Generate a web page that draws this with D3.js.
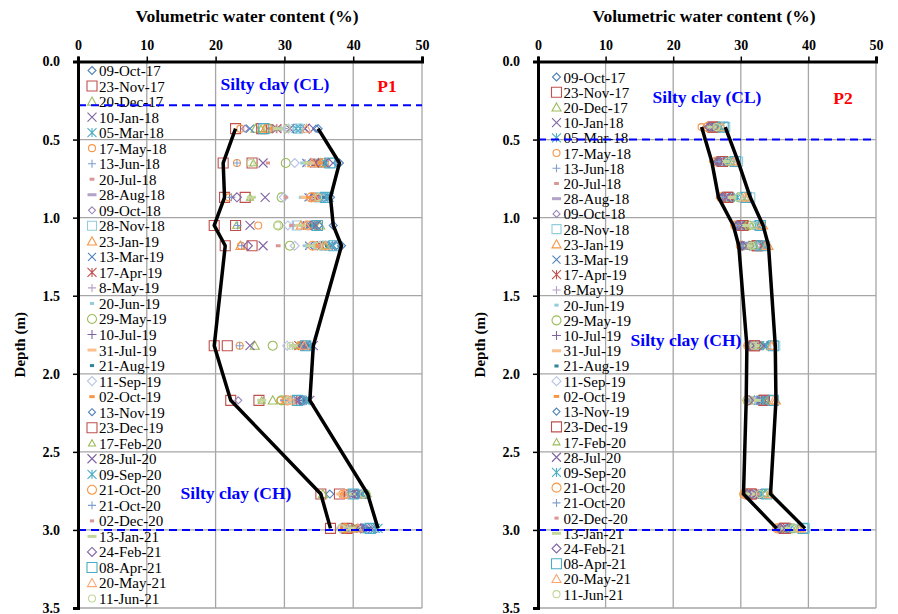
<!DOCTYPE html>
<html>
<head>
<meta charset="utf-8">
<script src="https://cdn.jsdelivr.net/npm/d3@7"></script>
<style>
  body { margin: 0; background: #fff; }
  svg { display: block; font-family: "Liberation Serif", "Times New Roman", serif; }
  .tick line { stroke: #000; stroke-width: 1.5; }
  .tick text { font-weight: bold; font-size: 14px; fill: #000; }
</style>
</head>
<body>
<svg id="chart" width="898" height="614"></svg>
<script>
// survey dates (legend order)
const dates = [
  "09-Oct-17", "23-Nov-17", "20-Dec-17", "10-Jan-18", "05-Mar-18", "17-May-18", "13-Jun-18",
  "20-Jul-18", "28-Aug-18", "09-Oct-18", "28-Nov-18", "23-Jan-19", "13-Mar-19", "17-Apr-19",
  "8-May-19", "20-Jun-19", "29-May-19", "10-Jul-19", "31-Jul-19", "21-Aug-19", "11-Sep-19",
  "02-Oct-19", "13-Nov-19", "23-Dec-19", "17-Feb-20", "28-Jul-20", "09-Sep-20", "21-Oct-20",
  "21-Oct-20", "02-Dec-20", "13-Jan-21", "24-Feb-21", "08-Apr-21", "20-May-21", "11-Jun-21"
];

const xTicks = [0, 10, 20, 30, 40, 50];
const yTicks = [0, 0.5, 1, 1.5, 2, 2.5, 3, 3.5];

// P1 sensor depths (m) and readings, one row per depth, one value per date
const p1Depths = [0.43, 0.65, 0.87, 1.05, 1.18, 1.82, 2.17, 2.77, 2.99];
const p1Vwc = [
  [34.9, 22.9, 25.8, 33.0, 32.3, 23.6, 29.5, 28.6, 29.4, 24.3, 32.0, 27.2, 25.0, 28.9, 30.0, 29.8, 27.8, 28.2, 28.4, 29.2, 30.6, 28.0, 34.6, 26.7, 26.6, 30.8, 31.7, 27.5, 28.8, 28.5, 29.0, 33.6, 27.0, 33.2, 30.3],
  [38.0, 21.1, 35.0, 35.5, 34.6, 23.1, 34.0, 33.6, 35.6, 34.8, 36.8, 35.3, 33.2, 34.4, 33.0, 32.6, 30.2, 34.2, 33.8, 35.9, 31.5, 35.2, 37.6, 25.3, 25.5, 26.9, 36.0, 35.8, 23.1, 27.6, 33.4, 36.4, 36.6, 34.0, 25.1],
  [36.7, 21.3, 34.8, 35.0, 36.5, 21.9, 33.8, 32.6, 35.2, 35.4, 35.0, 34.2, 33.5, 34.6, 33.2, 32.4, 29.6, 34.0, 33.0, 35.7, 29.9, 33.6, 36.2, 24.3, 25.0, 27.2, 36.3, 33.9, 22.3, 30.2, 25.2, 23.1, 36.0, 34.4, 34.9],
  [37.1, 19.8, 35.2, 34.2, 33.8, 26.2, 32.6, 32.0, 33.3, 33.0, 31.8, 32.4, 33.6, 34.6, 31.3, 31.6, 29.1, 32.8, 32.2, 34.0, 30.5, 33.2, 35.0, 22.9, 23.0, 25.0, 34.4, 33.4, 23.2, 31.0, 32.5, 33.9, 34.8, 33.1, 29.0],
  [38.3, 21.4, 35.6, 36.8, 36.4, 23.7, 34.3, 29.1, 34.0, 35.1, 35.8, 23.6, 33.6, 35.4, 33.2, 33.0, 30.8, 34.6, 35.0, 36.2, 31.5, 34.8, 37.6, 25.3, 35.9, 26.9, 37.0, 34.1, 23.8, 35.2, 33.8, 24.7, 37.2, 36.0, 34.9],
  [33.6, 19.8, 25.7, 25.0, 33.2, 23.5, 32.0, 31.8, 31.4, 32.6, 33.0, 32.3, 32.8, 32.1, 31.2, 31.6, 28.3, 32.4, 31.5, 33.4, 30.4, 32.2, 33.0, 21.7, 31.9, 34.2, 33.8, 32.5, 23.5, 31.7, 31.3, 32.7, 33.1, 32.9, 30.9],
  [32.6, 22.2, 28.3, 33.7, 33.0, 29.4, 30.0, 31.0, 31.2, 23.3, 32.4, 30.2, 32.0, 31.8, 30.6, 31.4, 29.6, 32.2, 30.8, 32.8, 31.1, 29.8, 32.5, 26.3, 26.7, 33.4, 33.2, 30.4, 30.0, 31.6, 26.7, 32.3, 31.9, 30.9, 30.5],
  [36.6, 35.3, 35.6, 40.6, 41.0, 38.4, 39.2, 38.8, 39.0, 40.2, 40.1, 41.6, 40.4, 39.6, 38.6, 39.8, 41.8, 40.8, 38.2, 40.9, 39.4, 38.5, 39.9, 38.0, 42.1, 41.2, 41.4, 38.9, 39.5, 39.1, 39.7, 40.5, 40.0, 38.7, 41.5],
  [41.2, 36.7, 39.8, 42.4, 43.6, 38.6, 39.4, 40.0, 39.6, 41.8, 42.0, 39.2, 41.0, 40.6, 39.0, 40.8, 38.4, 41.4, 38.9, 42.2, 38.2, 40.2, 41.6, 39.1, 40.4, 42.8, 43.2, 38.8, 39.3, 40.3, 39.9, 41.1, 42.5, 40.7, 38.3]
];

// P2 sensor depths (m) and readings
const p2Depths = [0.42, 0.64, 0.87, 1.05, 1.18, 1.82, 2.17, 2.77, 2.99];
const p2Vwc = [
  [25.6, 25.8, 26.2, 25.9, 26.4, 24.2, 25.3, 26.0, 25.4, 25.7, 27.7, 26.8, 25.5, 26.1, 25.2, 25.9, 26.9, 25.8, 26.3, 26.6, 26.5, 24.8, 25.6, 26.0, 26.7, 25.9, 27.0, 25.1, 25.4, 26.2, 25.7, 25.3, 27.4, 27.2, 26.4],
  [26.8, 27.2, 27.6, 27.0, 28.0, 26.5, 26.9, 27.4, 27.1, 26.6, 29.6, 28.8, 26.7, 27.5, 27.3, 27.8, 28.4, 27.0, 27.7, 28.2, 28.6, 25.7, 26.8, 27.3, 28.5, 27.2, 28.3, 26.4, 26.9, 27.6, 27.9, 26.6, 29.2, 29.0, 28.1],
  [27.5, 28.0, 28.4, 27.8, 29.0, 27.0, 27.4, 28.2, 27.7, 27.3, 31.4, 30.9, 27.6, 28.3, 27.9, 28.6, 29.8, 27.5, 28.5, 29.3, 29.9, 26.7, 27.2, 28.1, 31.0, 27.8, 29.5, 27.1, 27.4, 28.8, 28.7, 27.3, 30.8, 30.6, 29.6],
  [29.8, 30.2, 30.6, 30.0, 32.4, 29.3, 29.6, 30.4, 29.9, 29.5, 32.8, 33.3, 29.7, 30.5, 30.1, 30.8, 31.2, 29.6, 30.7, 31.0, 32.0, 28.9, 29.4, 30.3, 31.5, 29.9, 32.6, 29.2, 29.6, 30.9, 30.6, 29.5, 32.9, 33.0, 31.8],
  [30.5, 32.5, 31.2, 30.8, 33.2, 30.1, 30.4, 31.0, 30.6, 30.3, 33.6, 34.1, 30.4, 32.9, 30.8, 31.4, 31.8, 30.4, 31.2, 31.6, 32.2, 29.7, 30.2, 32.4, 32.0, 30.7, 33.4, 30.0, 30.3, 34.0, 31.1, 30.2, 33.0, 33.8, 31.5],
  [31.5, 32.0, 32.2, 33.5, 32.8, 31.3, 31.6, 31.9, 31.7, 31.4, 35.1, 34.5, 33.6, 32.4, 31.8, 32.1, 32.6, 31.4, 32.3, 32.9, 32.5, 30.9, 31.2, 32.0, 33.0, 33.4, 33.8, 31.1, 31.4, 32.2, 32.1, 31.3, 34.8, 34.6, 31.9],
  [31.4, 33.4, 32.0, 33.2, 32.6, 31.2, 31.5, 31.8, 31.6, 31.3, 34.6, 35.2, 32.8, 33.6, 31.7, 32.0, 31.0, 31.3, 32.2, 32.7, 32.4, 30.8, 31.1, 33.5, 33.8, 33.0, 33.3, 31.0, 31.2, 32.1, 32.3, 31.2, 34.8, 34.9, 30.9],
  [31.0, 31.4, 31.6, 32.2, 33.0, 30.6, 31.2, 31.5, 31.3, 30.9, 33.5, 34.4, 31.8, 32.0, 31.1, 31.7, 33.4, 30.8, 31.5, 32.4, 31.9, 30.4, 30.7, 31.6, 33.6, 32.3, 33.2, 30.5, 30.8, 32.5, 31.4, 30.9, 33.8, 34.2, 32.8],
  [36.0, 36.6, 36.8, 36.4, 37.4, 35.5, 35.8, 36.3, 36.1, 35.9, 39.5, 38.6, 36.2, 36.9, 36.0, 36.7, 37.6, 35.7, 36.5, 37.0, 37.2, 35.3, 35.6, 36.4, 38.2, 36.3, 37.3, 35.4, 35.7, 36.8, 36.6, 35.8, 39.2, 38.9, 37.8]
];

// soil layer boundaries (m)
const p1Layers = [0.28, 3.0];
const p2Layers = [0.5, 3.0];

// marker style per date
const markerShapes = [
  "diamond", "square", "triangle", "x", "star", "circle", "plus", "dash", "longdash",
  "diamond", "square", "triangle", "x", "star", "plus", "dash", "circle", "plus", "longdash",
  "dash", "diamond", "dash", "diamond", "square", "triangle", "x", "star", "circle", "plus",
  "dash", "longdash", "diamond", "square", "triangle", "circle"
];
const markerColors = [
  "#4F81BD", "#C0504D", "#9BBB59", "#8064A2", "#4BACC6", "#F79646", "#7F9FD0", "#D99694", "#B3A2C7",
  "#9983B8", "#93CDDD", "#F79646", "#4F81BD", "#C0504D", "#B3A2C7", "#93CDDD", "#9BBB59", "#8064A2", "#FAC090",
  "#31859C", "#B9C3E6", "#F79646", "#4F81BD", "#C0504D", "#9BBB59", "#8064A2", "#4BACC6", "#F79646", "#7F9FD0",
  "#D99694", "#C3D69B", "#8064A2", "#4BACC6", "#FAA772", "#C3D69B"
];
const markerSizes = [
  8, 10, 9, 9, 9, 7, 8, 8, 9,
  7, 9, 9, 8, 9, 8, 7, 9, 9, 9,
  7, 9, 9, 7, 10, 7, 9, 9, 9, 8,
  7, 9, 9, 10, 9, 7
];

function markerPath(shape, s) {
  const h = s / 2;
  const p = d3.path();
  switch (shape) {
    case "diamond":
      p.moveTo(0, -h); p.lineTo(h, 0); p.lineTo(0, h); p.lineTo(-h, 0); p.closePath(); break;
    case "square":
      p.rect(-h, -h, s, s); break;
    case "triangle":
      p.moveTo(0, -h); p.lineTo(h, h * 0.8); p.lineTo(-h, h * 0.8); p.closePath(); break;
    case "x":
      p.moveTo(-h, -h); p.lineTo(h, h); p.moveTo(-h, h); p.lineTo(h, -h); break;
    case "star":
      p.moveTo(-h, -h); p.lineTo(h, h); p.moveTo(-h, h); p.lineTo(h, -h);
      p.moveTo(0, -h); p.lineTo(0, h); break;
    case "circle":
      p.moveTo(h, 0); p.arc(0, 0, h, 0, 2 * Math.PI); break;
    case "plus":
      p.moveTo(-h, 0); p.lineTo(h, 0); p.moveTo(0, -h); p.lineTo(0, h); break;
    case "dash":
      p.moveTo(-h * 0.6, 0); p.lineTo(h * 0.6, 0); break;
    case "longdash":
      p.moveTo(-h, 0); p.lineTo(h, 0); break;
  }
  return p.toString();
}

function drawMarker(sel, i) {
  const shape = markerShapes[i];
  const thick = shape === "dash" || shape === "longdash";
  sel.append("path")
    .attr("d", markerPath(shape, markerSizes[i]))
    .attr("fill", "none")
    .attr("stroke", markerColors[i])
    .attr("stroke-width", thick ? 3 : 1.1);
}

const svg = d3.select("#chart");

function drawPanel(cfg) {
  const { left, right, top, bottom, depths, vwc, layers, legendX, legendTop, legendStep } = cfg;

  const x = d3.scaleLinear().domain([0, 50]).range([left, right]);
  const y = d3.scaleLinear().domain([0, 3.5]).range([top, bottom]);
  const g = svg.append("g");

  // grid
  g.append("g").selectAll("line").data(xTicks.slice(1)).join("line")
    .attr("x1", d => x(d)).attr("x2", d => x(d)).attr("y1", top).attr("y2", bottom)
    .attr("stroke", "#A6A6A6").attr("stroke-width", 1.3);
  g.append("g").selectAll("line").data(yTicks.slice(1)).join("line")
    .attr("x1", left).attr("x2", right).attr("y1", d => y(d)).attr("y2", d => y(d))
    .attr("stroke", "#A6A6A6").attr("stroke-width", 1.3);

  // legend (no background, gridlines show through)
  const leg = g.append("g");
  dates.forEach((d, i) => {
    const row = leg.append("g").attr("transform", `translate(${legendX},${legendTop + i * legendStep})`);
    drawMarker(row, i);
    row.append("text").attr("x", 7).attr("y", 5.5)
      .attr("font-size", 15).attr("fill", "#000").text(d);
  });

  // points
  const pts = [];
  depths.forEach((dep, r) => vwc[r].forEach((v, i) => pts.push({ dep, v, i })));
  g.append("g").selectAll("g").data(pts).join("g")
    .attr("transform", d => `translate(${x(d.v)},${y(d.dep)})`)
    .each(function (d) { drawMarker(d3.select(this), d.i); });

  // envelope lines (min / max per depth)
  const line = d3.line().x(d => x(d[0])).y(d => y(d[1]));
  const minLine = depths.map((dep, r) => [d3.min(vwc[r]), dep]);
  const maxLine = depths.map((dep, r) => [d3.max(vwc[r]), dep]);
  [minLine, maxLine].forEach(l => {
    g.append("path").attr("d", line(l)).attr("fill", "none")
      .attr("stroke", "#000").attr("stroke-width", 3.5).attr("stroke-linejoin", "round");
  });

  // layer boundaries
  g.append("g").selectAll("line").data(layers).join("line")
    .attr("x1", left).attr("x2", right).attr("y1", d => y(d)).attr("y2", d => y(d))
    .attr("stroke", "#0000FF").attr("stroke-width", 2).attr("stroke-dasharray", "8,5");

  // axes
  const xAxis = g.append("g").attr("transform", `translate(0,${top})`)
    .call(d3.axisTop(x).tickValues(xTicks).tickSize(5).tickPadding(7).tickFormat(d3.format("d")));
  xAxis.select(".domain").attr("stroke", "#000").attr("stroke-width", 3);
  const yAxis = g.append("g").attr("transform", `translate(${left},0)`)
    .call(d3.axisLeft(y).tickValues(yTicks).tickSize(5).tickPadding(13).tickFormat(d3.format(".1f")));
  yAxis.select(".domain").attr("stroke", "#000").attr("stroke-width", 3);
  g.selectAll(".tick text").attr("font-family", "Liberation Serif, Times New Roman, serif");

  // titles
  g.append("text").attr("x", (left + right) / 2 - 3).attr("y", 22)
    .attr("text-anchor", "middle").attr("font-weight", "bold").attr("font-size", 17.5)
    .text("Volumetric water content (%)");
  g.append("text").attr("transform", `translate(${left - 53},${(top + bottom) / 2 + 10}) rotate(-90)`)
    .attr("text-anchor", "middle").attr("font-weight", "bold").attr("font-size", 15)
    .text("Depth (m)");

  cfg.labels.forEach(l => {
    g.append("text").attr("x", l.x).attr("y", l.y).attr("text-anchor", "middle")
      .attr("font-weight", "bold").attr("font-size", 17.5).attr("fill", l.color).text(l.text);
  });
}

drawPanel({
  left: 78, right: 422, top: 61.5, bottom: 608,
  depths: p1Depths, vwc: p1Vwc, layers: p1Layers,
  legendX: 92, legendTop: 70.5, legendStep: 15.53,
  labels: [
    { text: "Silty clay (CL)", x: 275, y: 90, color: "#0000FF" },
    { text: "P1", x: 387, y: 92, color: "#FF0000" },
    { text: "Silty clay (CH)", x: 236, y: 499, color: "#0000FF" }
  ]
});

drawPanel({
  left: 538, right: 876, top: 61.5, bottom: 608,
  depths: p2Depths, vwc: p2Vwc, layers: p2Layers,
  legendX: 556.5, legendTop: 77, legendStep: 15.21,
  labels: [
    { text: "Silty clay (CL)", x: 707, y: 103, color: "#0000FF" },
    { text: "P2", x: 843, y: 104, color: "#FF0000" },
    { text: "Silty clay (CH)", x: 686, y: 346, color: "#0000FF" }
  ]
});
</script>
</body>
</html>
